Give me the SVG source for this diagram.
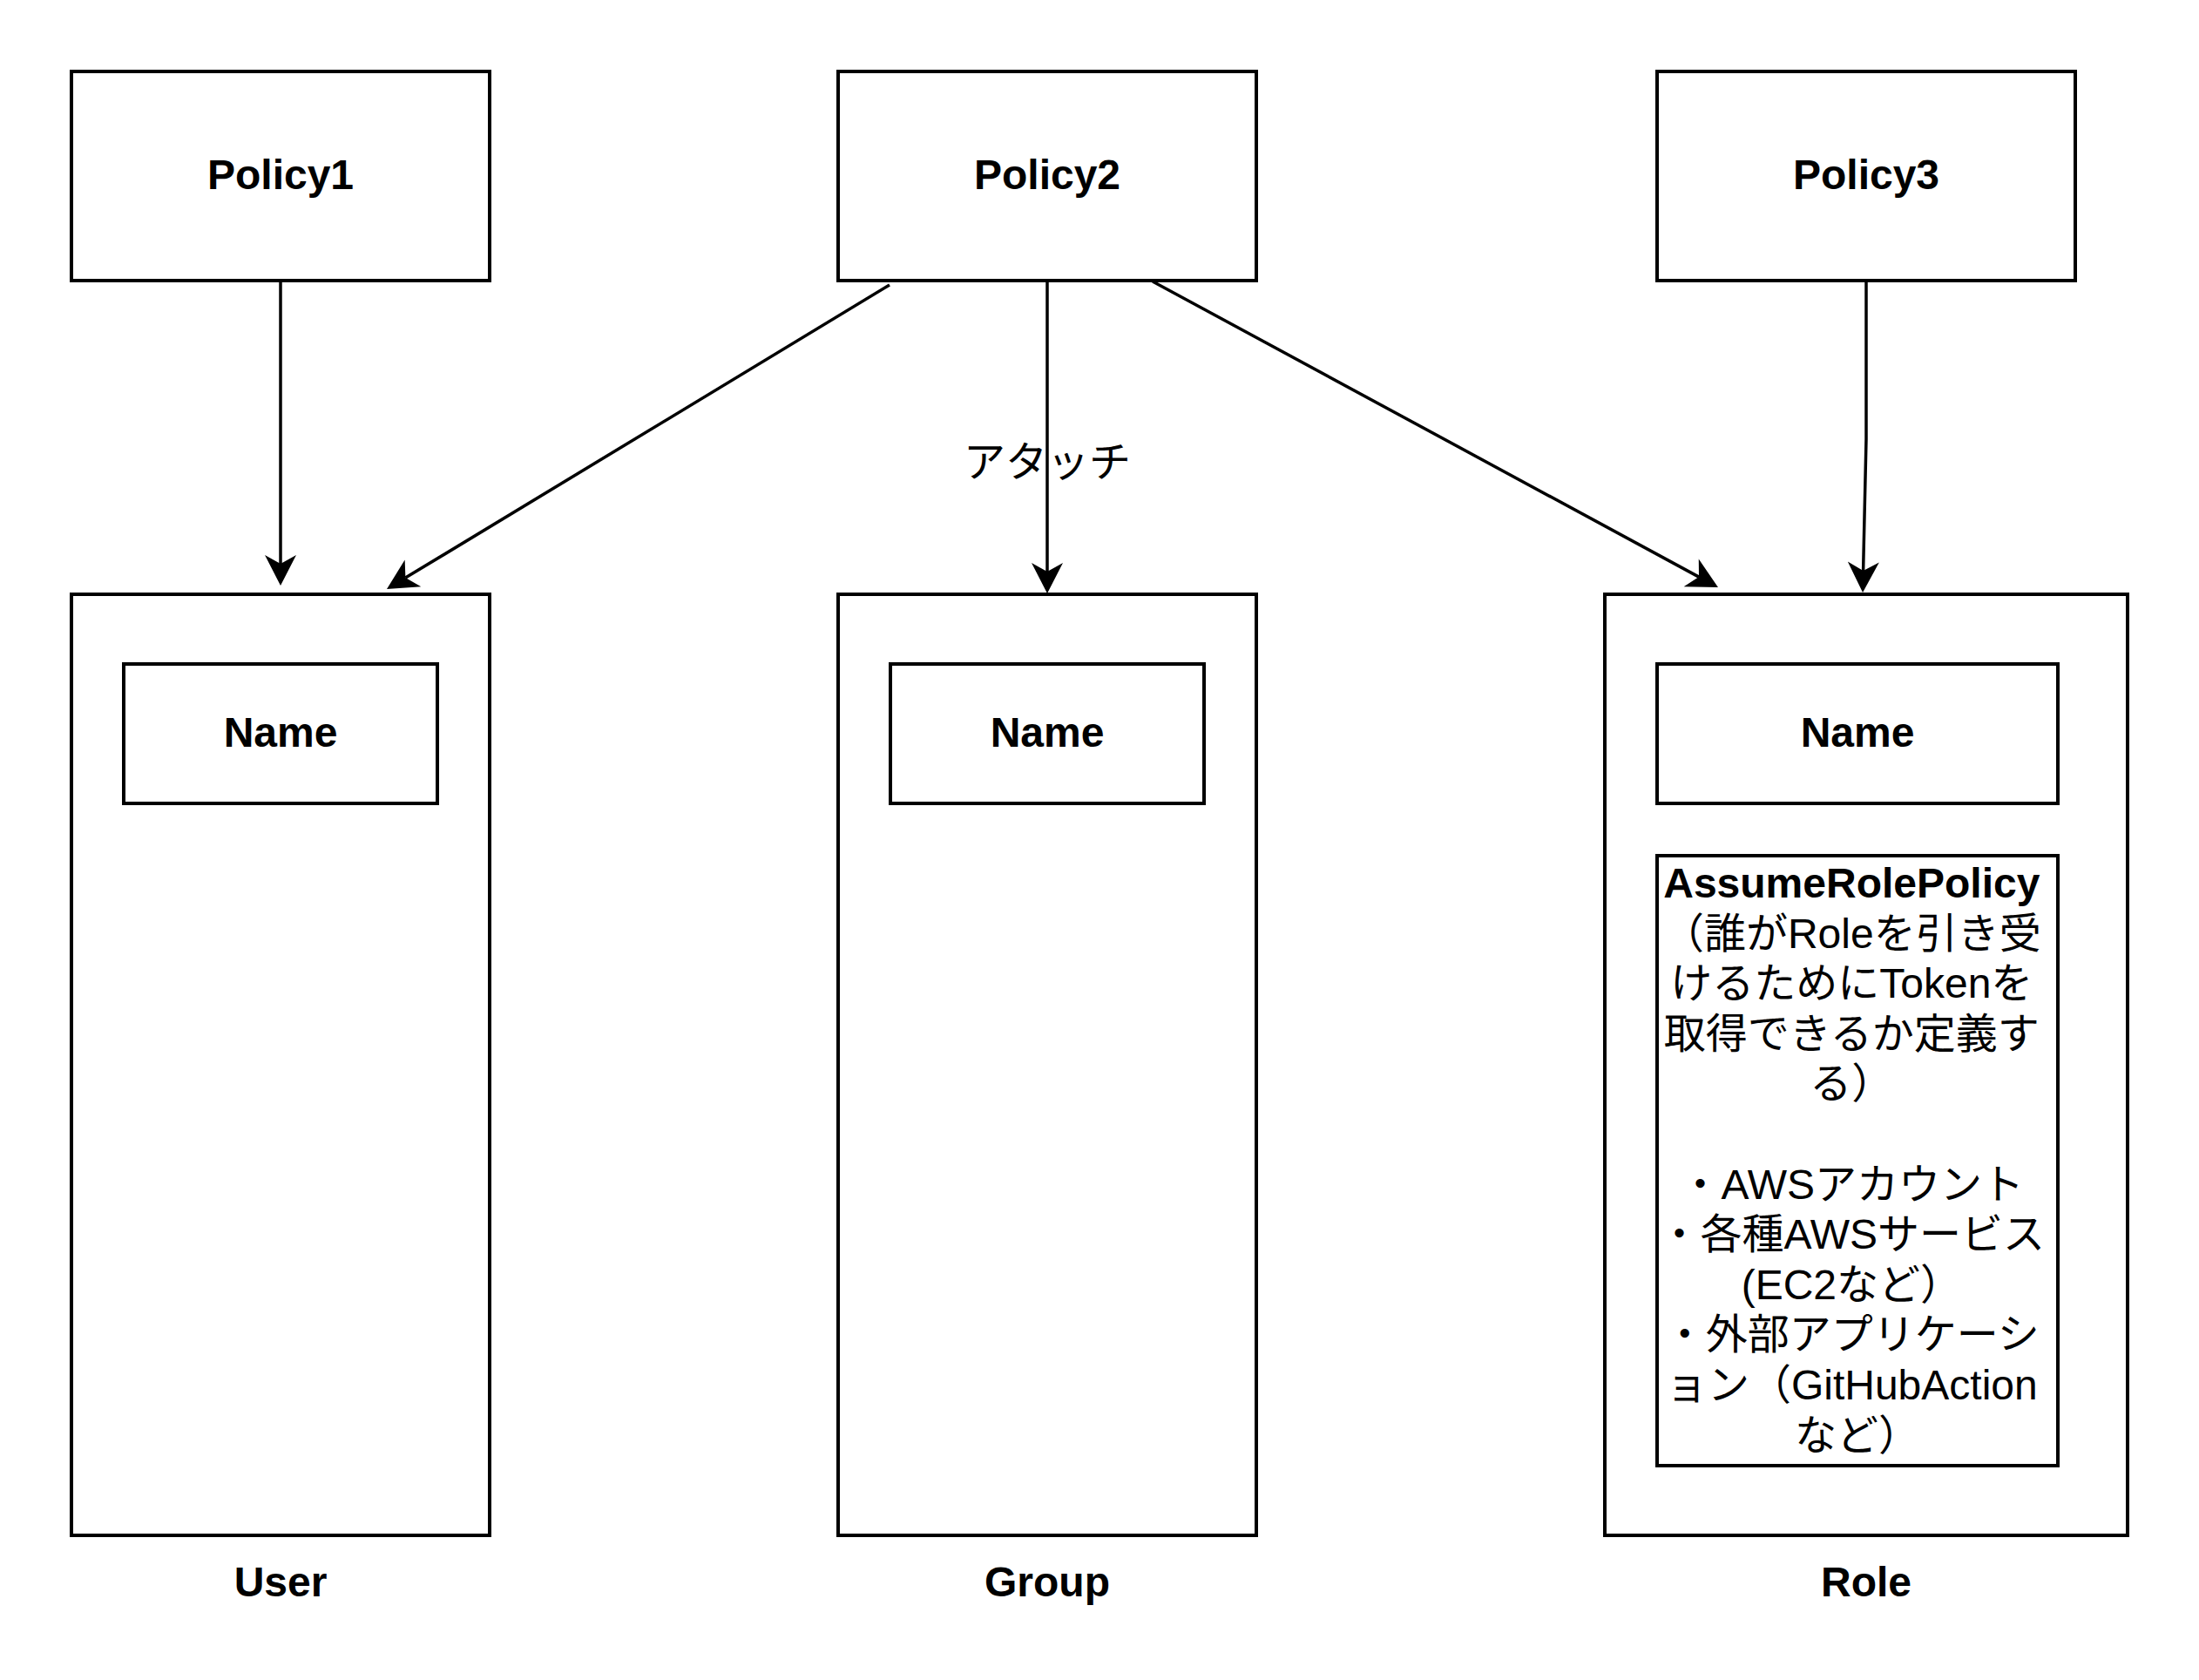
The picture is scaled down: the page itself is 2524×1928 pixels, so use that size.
<svg xmlns="http://www.w3.org/2000/svg" width="2524" height="1928" viewBox="0 0 2524 1928">
<style>
.box{fill:#fff;stroke:#000;stroke-width:4}
.t{font-family:"Liberation Sans","Noto Sans CJK JP",sans-serif;font-size:48px;fill:#000;text-anchor:middle}
.b{font-weight:bold}
.edge{fill:none;stroke:#000;stroke-width:3.5}
</style>
<defs>
<marker id="arr" markerUnits="userSpaceOnUse" markerWidth="36" markerHeight="36" refX="10" refY="18" orient="auto" overflow="visible">
<path d="M35,18 L0,0 L10,18 L0,36 Z" fill="#000"/>
</marker>
</defs>
<rect width="2524" height="1928" fill="#fff"/>
<g id="connectors">
<path class="edge" d="M322,322 L322,647" marker-end="url(#arr)"/>
<path class="edge" d="M1021,327 L465.4,663.1" marker-end="url(#arr)"/>
<path class="edge" d="M1202,322 L1202,656" marker-end="url(#arr)"/>
<path class="edge" d="M1323,323 L1950,662.1" marker-end="url(#arr)"/>
<path class="edge" d="M2142,322 L2142,504 L2138.6,655" marker-end="url(#arr)"/>
<text class="t" x="1202" y="547">アタッチ</text>
</g>
<g id="policy1"><rect class="box" x="82" y="82" width="480" height="240"/><text class="t b" x="322" y="217">Policy1</text></g>
<g id="policy2"><rect class="box" x="962" y="82" width="480" height="240"/><text class="t b" x="1202" y="217">Policy2</text></g>
<g id="policy3"><rect class="box" x="1902" y="82" width="480" height="240"/><text class="t b" x="2142" y="217">Policy3</text></g>
<g id="user"><rect class="box" x="82" y="682" width="480" height="1080"/><text class="t b" x="322" y="1832">User</text></g>
<g id="user-name"><rect class="box" x="142" y="762" width="360" height="160"/><text class="t b" x="322" y="857">Name</text></g>
<g id="group"><rect class="box" x="962" y="682" width="480" height="1080"/><text class="t b" x="1202" y="1832">Group</text></g>
<g id="group-name"><rect class="box" x="1022" y="762" width="360" height="160"/><text class="t b" x="1202" y="857">Name</text></g>
<g id="role"><rect class="box" x="1842" y="682" width="600" height="1080"/><text class="t b" x="2142" y="1832">Role</text></g>
<g id="role-name"><rect class="box" x="1902" y="762" width="460" height="160"/><text class="t b" x="2132" y="857">Name</text></g>
<g id="assume-role-policy"><rect class="box" x="1902" y="982" width="460" height="700"/>
<text class="t">
<tspan class="b" x="2132" y="1030">AssumeRolePolicy</tspan>
<tspan x="2132" y="1087.6">（誰がRoleを引き受</tspan>
<tspan x="2132" y="1145.2">けるためにTokenを</tspan>
<tspan x="2132" y="1202.8">取得できるか定義す</tspan>
<tspan x="2132" y="1260.4">る）</tspan>
<tspan x="2132" y="1375.6">・AWSアカウント</tspan>
<tspan x="2132" y="1433.2">・各種AWSサービス</tspan>
<tspan x="2132" y="1490.8">(EC2など）</tspan>
<tspan x="2132" y="1548.4">・外部アプリケーシ</tspan>
<tspan x="2132" y="1606">ョン（GitHubAction</tspan>
<tspan x="2132" y="1663.6">など）</tspan>
</text>
</g>
</svg>
